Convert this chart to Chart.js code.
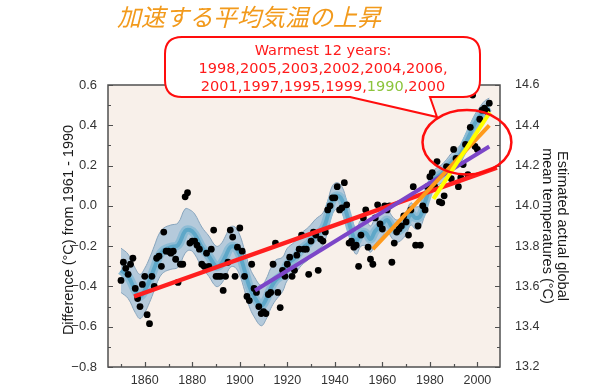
<!DOCTYPE html>
<html><head><meta charset="utf-8">
<script src="https://cdn.jsdelivr.net/npm/chart.js@4/dist/chart.umd.min.js"></script>
<style>html,body{margin:0;padding:0;background:#fff;}#wrap{width:600px;height:390px;}</style>
</head><body><div id="wrap"><canvas id="c" width="600" height="390"></canvas></div>
<script>
// ---- data ----
const years = [
1850,1851,1852,1853,1854,1855,1856,1857,1858,1859,
1860,1861,1862,1863,1864,1865,1866,1867,1868,1869,
1870,1871,1872,1873,1874,1875,1876,1877,1878,1879,
1880,1881,1882,1883,1884,1885,1886,1887,1888,1889,
1890,1891,1892,1893,1894,1895,1896,1897,1898,1899,
1900,1901,1902,1903,1904,1905,1906,1907,1908,1909,
1910,1911,1912,1913,1914,1915,1916,1917,1918,1919,
1920,1921,1922,1923,1924,1925,1926,1927,1928,1929,
1930,1931,1932,1933,1934,1935,1936,1937,1938,1939,
1940,1941,1942,1943,1944,1945,1946,1947,1948,1949,
1950,1951,1952,1953,1954,1955,1956,1957,1958,1959,
1960,1961,1962,1963,1964,1965,1966,1967,1968,1969,
1970,1971,1972,1973,1974,1975,1976,1977,1978,1979,
1980,1981,1982,1983,1984,1985,1986,1987,1988,1989,
1990,1991,1992,1993,1994,1995,1996,1997,1998,1999,
2000,2001,2002,2003,2004,2005];
const anomalies = [
-0.37,-0.28,-0.31,-0.34,-0.29,-0.26,-0.41,-0.46,-0.50,-0.39,
-0.35,-0.54,-0.585,-0.35,-0.40,-0.26,-0.25,-0.30,-0.13,-0.225,
-0.225,-0.235,-0.225,-0.265,-0.38,-0.29,-0.29,0.045,0.065,-0.185,
-0.175,-0.175,-0.195,-0.215,-0.29,-0.30,-0.235,-0.30,-0.215,-0.12,
-0.35,-0.35,-0.35,-0.42,-0.35,-0.28,-0.12,-0.155,-0.35,-0.205,
-0.11,-0.225,-0.35,-0.45,-0.47,-0.29,-0.41,-0.43,-0.50,-0.535,
-0.525,-0.535,-0.44,-0.43,-0.29,-0.185,-0.43,-0.505,-0.32,-0.35,
-0.29,-0.255,-0.35,-0.32,-0.245,-0.215,-0.145,-0.215,-0.215,-0.34,
-0.175,-0.13,-0.145,-0.32,-0.165,-0.175,-0.13,-0.02,0.00,0.04,
0.04,0.095,-0.02,-0.01,0.115,0.005,-0.185,-0.175,-0.205,-0.195,
-0.30,-0.145,-0.06,-0.02,-0.205,-0.265,-0.29,-0.06,0.005,-0.09,
-0.115,0.00,-0.02,0.00,-0.28,-0.185,-0.13,-0.115,-0.10,-0.05,
-0.08,-0.145,-0.02,0.095,-0.195,-0.10,-0.195,0.00,-0.02,0.095,
0.145,0.165,0.095,0.22,0.02,0.015,0.05,0.195,0.19,0.135,
0.28,0.235,0.095,0.14,0.205,0.305,0.155,0.39,0.55,0.295,
0.28,0.43,0.475,0.485,0.47,0.51];

// smoothed curve and its uncertainty band
const smoothYears = [1850,1853,1856,1858,1860,1862,1864,1866,1868,1871,1874,1877,1879,1881,1884,1887,1890,1892,1894,1896,1898,1900,1902,1904,1906,1909,1911,1913,1915,1918,1920,1923,1926,1929,1932,1935,1937,1939,1941,1943,1945,1947,1949,1951,1953,1955,1957,1960,1962,1964,1966,1968,1970,1972,1974,1976,1978,1980,1982,1985,1987,1989,1991,1993,1995,1997,1999,2001,2003,2005];
const smoothMid = [-0.32,-0.35,-0.42,-0.45,-0.42,-0.37,-0.31,-0.25,-0.22,-0.205,-0.195,-0.125,-0.12,-0.14,-0.205,-0.25,-0.30,-0.29,-0.25,-0.205,-0.205,-0.245,-0.32,-0.40,-0.45,-0.495,-0.465,-0.41,-0.37,-0.34,-0.29,-0.26,-0.215,-0.185,-0.145,-0.115,-0.05,0.03,0.05,0.03,-0.04,-0.125,-0.175,-0.135,-0.135,-0.165,-0.125,-0.09,-0.07,-0.105,-0.125,-0.115,-0.085,-0.04,-0.06,-0.05,0.02,0.09,0.135,0.16,0.185,0.215,0.235,0.26,0.31,0.36,0.41,0.445,0.475,0.49];
const smoothHigh = [-0.21,-0.24,-0.31,-0.34,-0.31,-0.26,-0.20,-0.14,-0.11,-0.095,-0.085,-0.015,-0.02,-0.04,-0.105,-0.15,-0.20,-0.19,-0.15,-0.105,-0.105,-0.145,-0.22,-0.30,-0.35,-0.395,-0.365,-0.31,-0.27,-0.255,-0.21,-0.18,-0.135,-0.105,-0.065,-0.035,0.025,0.10,0.115,0.095,0.025,-0.06,-0.11,-0.07,-0.07,-0.10,-0.06,-0.03,-0.015,-0.05,-0.07,-0.06,-0.03,0.015,-0.005,0.005,0.075,0.14,0.18,0.205,0.23,0.26,0.28,0.305,0.355,0.405,0.455,0.49,0.52,0.535];
const smoothLow = [-0.43,-0.46,-0.53,-0.56,-0.53,-0.48,-0.42,-0.36,-0.33,-0.315,-0.305,-0.235,-0.22,-0.24,-0.305,-0.35,-0.40,-0.39,-0.35,-0.305,-0.305,-0.345,-0.42,-0.50,-0.55,-0.595,-0.565,-0.51,-0.47,-0.425,-0.37,-0.34,-0.295,-0.265,-0.225,-0.195,-0.125,-0.04,-0.015,-0.035,-0.105,-0.19,-0.24,-0.20,-0.20,-0.23,-0.19,-0.15,-0.125,-0.16,-0.18,-0.17,-0.14,-0.095,-0.115,-0.105,-0.035,0.04,0.09,0.115,0.14,0.17,0.19,0.215,0.265,0.315,0.365,0.40,0.43,0.445];

// trend lines: [startYear, endYear] and [startValue, endValue]
const trend150Years = [1855.5, 2008.2], trend150Values = [-0.45, 0.19];
const trend100Years = [1906.4, 2005.0], trend100Values = [-0.42, 0.295];
const trend50Years  = [1956.0, 2005.0], trend50Values  = [-0.215, 0.40];
const trend25Years  = [1981.5, 2005.3], trend25Values  = [0.035, 0.465];

// axes / tick labels
const xTickLabels = [1860,1880,1900,1920,1940,1960,1980,2000];
const xTickMarks = [1850,1860,1870,1880,1890,1900,1910,1920,1930,1940,1950,1960,1970,1980,1990,2000];
const yTickLabels = [-0.8,-0.6,-0.4,-0.2,0.0,0.2,0.4,0.6];
const yTickMarks = [-0.8,-0.7,-0.6,-0.5,-0.4,-0.3,-0.2,-0.1,0.0,0.1,0.2,0.3,0.4,0.5,0.6];
const y2TickLabels = [13.2,13.4,13.6,13.8,14.0,14.2,14.4,14.6];

// texts
const titleText = '加速する平均気温の上昇';
const yTitle = 'Difference (°C) from 1961 - 1990';
const y2Title = ['Estimated actual global', 'mean temperatures (°C)'];
const calloutLine1 = 'Warmest 12 years:';
const calloutLine2 = '1998,2005,2003,2002,2004,2006,';
const calloutLine3 = [['2001,1997,1995,1999,', '#ff1a1a'], ['1990', '#8cc43c'], [',2000', '#ff1a1a']];

// highlight ellipse in data units (center year/value, half-width years, half-height value)
const ellipseCenter = [1995.6, 0.316];
const ellipseHalf = [18.7, 0.16];

const pts = (xs, ys) => xs.map((x, i) => ({x: x, y: ys[i]}));

const decor = {
  id: 'decor',
  beforeDraw(chart) {
    const {ctx, chartArea: a} = chart;
    ctx.save();
    ctx.fillStyle = '#ffffff';
    ctx.fillRect(0, 0, chart.width, chart.height);
    ctx.fillStyle = '#f8f0ea';
    ctx.fillRect(a.left, a.top, a.right - a.left, a.bottom - a.top);
    ctx.restore();
  },
  afterDraw(chart) {
    const {ctx, chartArea: a, scales} = chart;
    const xs = scales.x, ys = scales.y, ys2 = scales.y2;
    ctx.save();
    // frame
    ctx.strokeStyle = '#505050';
    ctx.lineWidth = 1.5;
    ctx.strokeRect(a.left, a.top, a.right - a.left, a.bottom - a.top);
    // inside ticks
    ctx.lineWidth = 1.2;
    ctx.beginPath();
    yTickMarks.forEach(v => {
      const y = Math.round(ys.getPixelForValue(v)) + 0.5;
      const len = yTickLabels.some(t => Math.abs(t - v) < 1e-6) ? 5 : 3;
      ctx.moveTo(a.left, y); ctx.lineTo(a.left + len, y);
      const y2 = Math.round(ys2.getPixelForValue(v + 14.0)) + 0.5;
      ctx.moveTo(a.right, y2); ctx.lineTo(a.right - len, y2);
    });
    xTickMarks.forEach(v => {
      const x = Math.round(xs.getPixelForValue(v)) + 0.5;
      const len = xTickLabels.includes(v) ? 5 : 3;
      ctx.moveTo(x, a.bottom); ctx.lineTo(x, a.bottom - len);
    });
    ctx.stroke();

    // axis titles
    ctx.fillStyle = '#1a1a1a';
    ctx.font = '14.5px "Liberation Sans", Arial, sans-serif';
    ctx.textAlign = 'center';
    ctx.textBaseline = 'middle';
    ctx.save();
    ctx.translate(69, 230);
    ctx.rotate(-Math.PI / 2);
    ctx.fillText(yTitle, 0, 0);
    ctx.restore();
    ctx.save();
    ctx.translate(562, 226);
    ctx.rotate(Math.PI / 2);
    ctx.fillText(y2Title[0], 0, 0);
    ctx.fillText(y2Title[1], 0, 15);
    ctx.restore();

    // highlight ellipse
    const cx = xs.getPixelForValue(ellipseCenter[0]);
    const cy = ys.getPixelForValue(ellipseCenter[1]);
    const rx = xs.getPixelForValue(ellipseCenter[0] + ellipseHalf[0]) - cx;
    const ry = cy - ys.getPixelForValue(ellipseCenter[1] + ellipseHalf[1]);
    ctx.strokeStyle = '#ff0d0d';
    ctx.lineWidth = 2.5;
    ctx.beginPath();
    ctx.ellipse(cx, cy, rx, ry, 0, 0, Math.PI * 2);
    ctx.stroke();

    // callout bubble
    const L = 165, T = 37, R = 480, B = 97, r = 17;
    ctx.beginPath();
    ctx.moveTo(L + r, T);
    ctx.lineTo(R - r, T);
    ctx.quadraticCurveTo(R, T, R, T + r);
    ctx.lineTo(R, B - r);
    ctx.quadraticCurveTo(R, B, R - r, B);
    ctx.lineTo(430, B);
    ctx.lineTo(437, 117);
    ctx.lineTo(350, B);
    ctx.lineTo(L + r, B);
    ctx.quadraticCurveTo(L, B, L, B - r);
    ctx.lineTo(L, T + r);
    ctx.quadraticCurveTo(L, T, L + r, T);
    ctx.closePath();
    ctx.fillStyle = '#ffffff';
    ctx.fill();
    ctx.strokeStyle = '#ff0d0d';
    ctx.lineWidth = 2;
    ctx.stroke();

    ctx.font = '14.5px "DejaVu Sans", sans-serif';
    ctx.fillStyle = '#ff1a1a';
    ctx.textAlign = 'center';
    ctx.fillText(calloutLine1, 323, 51);
    ctx.fillText(calloutLine2, 323, 69);
    const total = calloutLine3.reduce((s, p) => s + ctx.measureText(p[0]).width, 0);
    let x0 = 323 - total / 2;
    ctx.textAlign = 'left';
    calloutLine3.forEach(p => {
      ctx.fillStyle = p[1];
      ctx.fillText(p[0], x0, 87);
      x0 += ctx.measureText(p[0]).width;
    });

    // title
    ctx.font = 'italic 24px "Noto Sans CJK JP", sans-serif';
    ctx.fillStyle = '#f29a1c';
    ctx.textAlign = 'left';
    ctx.textBaseline = 'middle';
    ctx.fillText(titleText, 117, 17);
    ctx.restore();
  }
};

const tickFont = {family: '"Liberation Sans", Arial, sans-serif', size: 12.5};

new Chart(document.getElementById('c'), {
  type: 'line',
  data: {
    datasets: [
      {label: 'bandHigh', data: pts(smoothYears, smoothHigh), borderColor: '#88a5bd', borderWidth: 1,
       backgroundColor: '#b5cadb', fill: '+1', tension: 0.4, pointRadius: 0, order: 20},
      {label: 'bandLow', data: pts(smoothYears, smoothLow), borderColor: '#88a5bd', borderWidth: 1,
       fill: false, tension: 0.4, pointRadius: 0, order: 19},
      {label: 'inner', data: pts(smoothYears, smoothMid), borderColor: '#8dbcd5', borderWidth: 9,
       fill: false, tension: 0.4, pointRadius: 0, order: 18},
      {label: 'smooth', data: pts(smoothYears, smoothMid), borderColor: '#5ea7c8', borderWidth: 4,
       fill: false, tension: 0.4, pointRadius: 0, order: 17},
      {label: 'annual', data: pts(years, anomalies), showLine: false, pointRadius: 3.4,
       pointBackgroundColor: '#000', pointBorderWidth: 0, borderColor: '#000', order: 16},
      {label: '150', data: pts(trend150Years, trend150Values), borderColor: '#ff1f1f', borderWidth: 4.5, pointRadius: 0, fill: false, order: 15},
      {label: '100', data: pts(trend100Years, trend100Values), borderColor: '#7c46c8', borderWidth: 4, pointRadius: 0, fill: false, order: 14},
      {label: '50', data: pts(trend50Years, trend50Values), borderColor: '#ff9a1c', borderWidth: 4, pointRadius: 0, fill: false, order: 13},
      {label: '25', data: pts(trend25Years, trend25Values), borderColor: '#ffff00', borderWidth: 4, pointRadius: 0, fill: false, order: 12}
    ]
  },
  options: {
    responsive: false,
    devicePixelRatio: 1,
    animation: false,
    events: [],
    layout: {padding: {top: 85, left: 0, right: 0, bottom: 0}},
    plugins: {legend: {display: false}, tooltip: {enabled: false}, title: {display: false}},
    scales: {
      x: {type: 'linear', position: 'bottom', min: 1844.53, max: 2009.51,
          afterFit: s => { s.height = 23; },
          afterBuildTicks: s => { s.ticks = xTickLabels.map(v => ({value: v})); },
          ticks: {font: tickFont, color: '#333', padding: -2, maxRotation: 0, autoSkip: false, callback: v => String(v)},
          grid: {display: false}, border: {display: false}},
      y: {position: 'left', min: -0.8, max: 0.6,
          afterFit: s => { s.width = 108; },
          afterBuildTicks: s => { s.ticks = yTickLabels.map(v => ({value: v})); },
          ticks: {font: {family: tickFont.family, size: 13}, color: '#333', padding: 3, autoSkip: false,
                  callback: v => Number(v).toFixed(1).replace('-', '\u2212')},
          grid: {display: false}, border: {display: false}},
      y2: {position: 'right', min: 13.2, max: 14.6,
          afterFit: s => { s.width = 100; },
          afterBuildTicks: s => { s.ticks = y2TickLabels.map(v => ({value: v})); },
          ticks: {font: tickFont, color: '#333', padding: 7, autoSkip: false, callback: v => Number(v).toFixed(1)},
          grid: {display: false}, border: {display: false}}
    }
  },
  plugins: [decor]
});
</script>
</body></html>
